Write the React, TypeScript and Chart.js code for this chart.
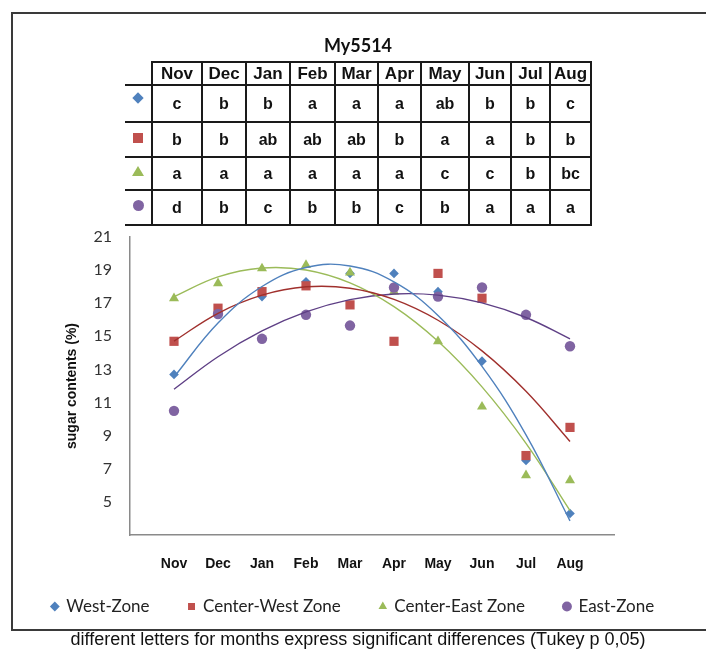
import React, { useEffect, useRef } from "react";
import { Chart, registerables } from "chart.js";

Chart.register(...registerables);

// ---------- data ----------
const months = ["Nov", "Dec", "Jan", "Feb", "Mar", "Apr", "May", "Jun", "Jul", "Aug"];
const westZone = [12.7, 16.4, 17.4, 18.3, 18.8, 18.8, 17.7, 13.5, 7.5, 4.3];
const centerWestZone = [14.7, 16.7, 17.7, 18.05, 16.9, 14.7, 18.8, 17.3, 7.8, 9.5];
const centerEastZone = [17.3, 18.2, 19.1, 19.3, 18.85, 17.7, 14.7, 10.75, 6.6, 6.3];
const eastZone = [10.5, 16.35, 14.85, 16.3, 15.65, 17.95, 17.4, 17.95, 16.3, 14.4];
const yMin = 3;
const yMax = 21;
const yStep = 2;

const westLetters = ["c", "b", "b", "a", "a", "a", "ab", "b", "b", "c"];
const centerWestLetters = ["b", "b", "ab", "ab", "ab", "b", "a", "a", "b", "b"];
const centerEastLetters = ["a", "a", "a", "a", "a", "a", "c", "c", "b", "bc"];
const eastLetters = ["d", "b", "c", "b", "b", "c", "b", "a", "a", "a"];

const tableTitle = "My5514";
const yTitle = "sugar contents (%)";
const caption = "different letters for months express significant differences (Tukey p 0,05)";

const seriesNames = ["West-Zone", "Center-West Zone", "Center-East Zone", "East-Zone"];
const seriesValues = [westZone, centerWestZone, centerEastZone, eastZone];
const seriesLetters = [westLetters, centerWestLetters, centerEastLetters, eastLetters];

// ---------- styles ----------
const colors = ["#4F81BD", "#C0504D", "#9BBB59", "#8064A2"];
const trendColors = ["#4F81BD", "#A0302D", "#9BBB59", "#5E3F85"];
const pointStyles = ["rectRot", "rect", "triangle", "circle"];
const pointRadii = [4.8, 6.5, 5.8, 5.2];

// least-squares quadratic trendline (like the spreadsheet "polynomial, order 2" trendline)
function quadFit(ys: number[]) {
  const xs = ys.map((_, i) => i + 1);
  let s0 = 0, s1 = 0, s2 = 0, s3 = 0, s4 = 0, t0 = 0, t1 = 0, t2 = 0;
  xs.forEach((x, i) => {
    const y = ys[i];
    s0 += 1; s1 += x; s2 += x * x; s3 += x * x * x; s4 += x * x * x * x;
    t0 += y; t1 += x * y; t2 += x * x * y;
  });
  const m = [
    [s0, s1, s2, t0],
    [s1, s2, s3, t1],
    [s2, s3, s4, t2],
  ];
  for (let c = 0; c < 3; c++) {
    for (let r = c + 1; r < 3; r++) {
      const f = m[r][c] / m[c][c];
      for (let k = c; k < 4; k++) m[r][k] -= f * m[c][k];
    }
  }
  const sol = [0, 0, 0];
  for (let r = 2; r >= 0; r--) {
    let v = m[r][3];
    for (let k = r + 1; k < 3; k++) v -= m[r][k] * sol[k];
    sol[r] = v / m[r][r];
  }
  return xs.map((x) => ({ x, y: sol[0] + sol[1] * x + sol[2] * x * x }));
}

const colEdges = [152, 202, 246, 290, 335, 378, 421, 469, 511, 550, 591];
const rowEdges = [62, 85, 122, 157, 190, 225];

function Marker({ i }: { i: number }) {
  const base: React.CSSProperties = { position: "absolute" };
  const cy = (rowEdges[i + 1] + rowEdges[i + 2]) / 2 - 2;
  const cx = 138;
  if (i === 0)
    return <div style={{ ...base, left: cx - 4, top: cy - 4 - 4, width: 8, height: 8, background: colors[0], transform: "rotate(45deg)" }} />;
  if (i === 1)
    return <div style={{ ...base, left: cx - 5, top: cy - 5, width: 10, height: 10, background: colors[1] }} />;
  if (i === 2)
    return (
      <div
        style={{
          ...base,
          left: cx - 6,
          top: cy - 6,
          width: 0,
          height: 0,
          borderLeft: "6px solid transparent",
          borderRight: "6px solid transparent",
          borderBottom: `10px solid ${colors[2]}`,
        }}
      />
    );
  return <div style={{ ...base, left: cx - 5.5, top: cy - 6, width: 11, height: 11, borderRadius: "50%", background: colors[3] }} />;
}

function LetterTable() {
  const line = "#1a1a1a";
  const els: React.ReactNode[] = [];
  rowEdges.forEach((y, r) => {
    const x0 = r === 0 ? colEdges[0] : 125;
    els.push(
      <div key={"h" + r} style={{ position: "absolute", left: x0, top: y - 1, width: colEdges[colEdges.length - 1] - x0 + 1, height: 2, background: line }} />
    );
  });
  colEdges.forEach((x, c) => {
    els.push(
      <div key={"v" + c} style={{ position: "absolute", left: x - 1, top: rowEdges[0] - 1, width: 2, height: rowEdges[rowEdges.length - 1] - rowEdges[0] + 2, background: line }} />
    );
  });
  const cellFont: React.CSSProperties = {
    position: "absolute",
    display: "flex",
    alignItems: "center",
    justifyContent: "center",
    fontFamily: "'Liberation Sans', Arial, sans-serif",
    fontWeight: "bold",
    fontSize: 17,
    color: "#111",
  };
  months.forEach((m, c) => {
    els.push(
      <div key={"m" + c} style={{ ...cellFont, left: colEdges[c], width: colEdges[c + 1] - colEdges[c], top: rowEdges[0], height: rowEdges[1] - rowEdges[0] }}>
        {m}
      </div>
    );
  });
  seriesLetters.forEach((letters, r) => {
    letters.forEach((l, c) => {
      els.push(
        <div
          key={"l" + r + "_" + c}
          style={{ ...cellFont, fontSize: 16, left: colEdges[c], width: colEdges[c + 1] - colEdges[c], top: rowEdges[r + 1], height: rowEdges[r + 2] - rowEdges[r + 1] }}
        >
          {l}
        </div>
      );
    });
    els.push(<Marker key={"mk" + r} i={r} />);
  });
  return (
    <div style={{ position: "absolute", left: 0, top: 0, width: 706, height: 240, pointerEvents: "none" }}>
      <div
        style={{
          position: "absolute",
          left: 258,
          width: 200,
          top: 34,
          textAlign: "center",
          fontFamily: "Lato, sans-serif",
          fontWeight: "bold",
          fontSize: 18,
          color: "#111",
        }}
      >
        {tableTitle}
      </div>
      {els}
    </div>
  );
}

// lets the x tick labels draw below the (deliberately short) x-axis box without being clipped
const xLabelRoom = {
  id: "xLabelRoom",
  afterLayout(chart: any) {
    const s = chart.scales.x;
    if (s) {
      s.bottom = s.top + 48;
      s.height = 48;
    }
  },
};

export default function App() {
  const canvasRef = useRef<HTMLCanvasElement | null>(null);

  useEffect(() => {
    if (!canvasRef.current) return;
    const pointSets = seriesValues.map((vals, i) => ({
      type: "line" as const,
      label: seriesNames[i],
      data: vals.map((y, k) => ({ x: k + 1, y })),
      showLine: false,
      pointStyle: pointStyles[i],
      pointRadius: pointRadii[i],
      pointBackgroundColor: colors[i],
      pointBorderColor: colors[i],
      pointBorderWidth: 0,
      backgroundColor: colors[i],
      borderColor: colors[i],
      borderWidth: 0,
      order: 4 - i,
    }));
    const trendSets = seriesValues.map((vals, i) => ({
      type: "line" as const,
      label: "trend " + seriesNames[i],
      data: quadFit(vals),
      showLine: true,
      pointRadius: 0,
      borderColor: trendColors[i],
      borderWidth: 1.4,
      tension: 0.4,
      fill: false,
      order: 0,
    }));

    const chart = new Chart(canvasRef.current, {
      type: "line",
      data: { datasets: [...pointSets, ...trendSets] as any },
      plugins: [xLabelRoom],
      options: {
        responsive: false,
        animation: false,
        devicePixelRatio: 1,
        layout: { padding: { left: 0, right: 0, top: 237, bottom: 25 } },
        scales: {
          x: {
            type: "linear",
            min: 0,
            max: 11,
            afterFit: (s: any) => {
              s.height = 24;
            },
            grid: { display: false, drawTicks: false },
            border: { display: true, color: "#8a8a8a", width: 1.5 },
            ticks: {
              stepSize: 1,
              autoSkip: false,
              maxRotation: 0,
              minRotation: 0,
              padding: 21,
              color: "#111",
              font: { family: "'Liberation Sans', Arial, sans-serif", size: 14, weight: "bold" },
              callback: (v: any) => months[Number(v) - 1] ?? "",
            },
          },
          y: {
            type: "linear",
            position: "left",
            min: yMin,
            max: yMax,
            afterFit: (s: any) => {
              s.width = 130;
            },
            grid: { display: false, drawTicks: false },
            border: { display: true, color: "#8a8a8a", width: 1.5 },
            ticks: {
              stepSize: yStep,
              padding: 18,
              color: "#333",
              font: { family: "Lato, sans-serif", size: 16 },
              callback: (v: any) => (Number(v) === yMin ? "" : String(v)),
            },
            title: {
              display: true,
              text: yTitle,
              color: "#111",
              font: { family: "'Liberation Sans', Arial, sans-serif", size: 14, weight: "bold" },
              padding: { top: 64, bottom: 4 },
            },
          },
          spacer: {
            type: "linear",
            position: "right",
            display: true,
            afterFit: (s: any) => {
              s.width = 92;
            },
            grid: { display: false, drawTicks: false },
            border: { display: false },
            ticks: { display: false },
          },
        },
        plugins: {
          legend: {
            display: true,
            position: "bottom",
            labels: {
              usePointStyle: true,
              boxWidth: 6,
              boxHeight: 7,
              padding: 39,
              color: "#222",
              font: { family: "Lato, sans-serif", size: 17 },
              filter: (item: any) => !String(item.text).startsWith("trend"),
              sort: (a: any, b: any) => a.datasetIndex - b.datasetIndex,
            },
          },
          tooltip: { enabled: false },
        },
      },
    });
    return () => chart.destroy();
  }, []);

  return (
    <div style={{ position: "absolute", left: 0, top: 0, width: 706, height: 650, overflow: "hidden", background: "#fff" }}>
      <canvas ref={canvasRef} width={706} height={650} style={{ position: "absolute", left: 0, top: 0, width: 706, height: 650 }} />
      <div
        style={{
          position: "absolute",
          left: 11,
          top: 12,
          width: 720,
          height: 615,
          border: "2px solid #3a3a3a",
          borderRight: "none",
          pointerEvents: "none",
        }}
      />
      <LetterTable />
      <div
        style={{
          position: "absolute",
          left: 5,
          width: 706,
          top: 629,
          textAlign: "center",
          fontFamily: "'Liberation Sans', Arial, sans-serif",
          fontSize: 18,
          lineHeight: "21px",
          color: "#111",
          whiteSpace: "nowrap",
        }}
      >
        {caption}
      </div>
    </div>
  );
}
